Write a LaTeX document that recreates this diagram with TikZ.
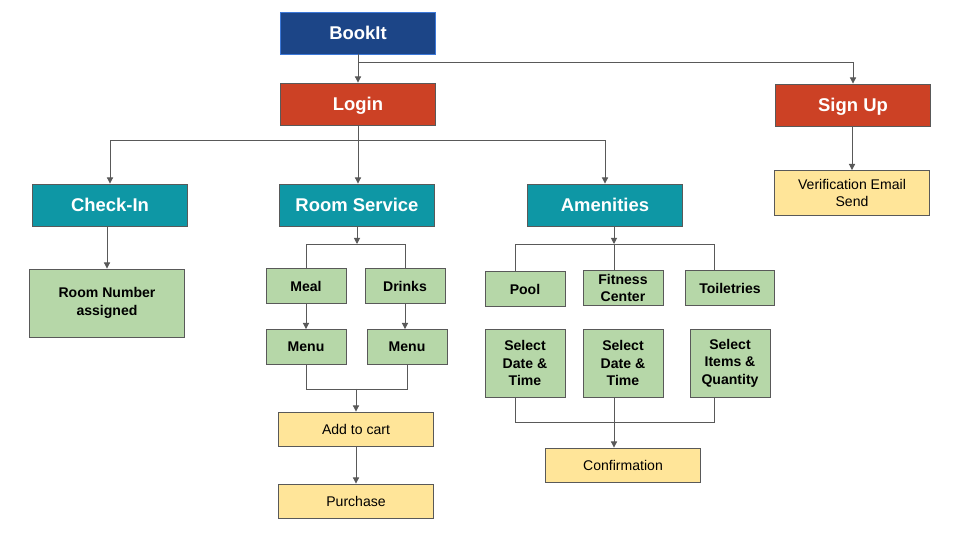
\documentclass[tikz,border=0pt]{standalone}
\usepackage{fontspec}
\setmainfont{Liberation Sans}
\usetikzlibrary{arrows.meta}
\definecolor{bookblue}{HTML}{1C4587}
\definecolor{bookedge}{HTML}{3C78D8}
\definecolor{loginred}{HTML}{CC4125}
\definecolor{sectteal}{HTML}{0E97A5}
\definecolor{leafgreen}{HTML}{B6D7A8}
\definecolor{endyellow}{HTML}{FFE599}
\definecolor{edgegray}{HTML}{595959}

\begin{document}
\begin{tikzpicture}[x=0.02cm,y=-0.02cm,
		box/.style={draw=edgegray,line width=0.5pt,inner sep=0pt,align=center},
		head/.style={box,fill=#1,text=white,font=\fontsize{10.5}{12}\selectfont\bfseries,text height=7.5pt,text depth=0pt,minimum width=3.1cm,minimum height=0.84cm},
		leaf/.style={box,fill=leafgreen,font=\fontsize{8}{10}\selectfont\bfseries,minimum width=1.6cm,minimum height=0.7cm},
		last/.style={box,fill=endyellow,font=\fontsize{8}{10}\selectfont,minimum width=3.1cm,minimum height=0.68cm},
		conn/.style={draw=edgegray,line width=0.55pt},
		arr/.style={conn,-{Triangle[length=3.5pt,width=3.5pt]}}]
			\useasboundingbox[fill=white] (0,0) rectangle (960,540);
			% top
			\node[head=bookblue,draw=bookedge] (bookit) at (358,33) {BookIt};
			\node[head=loginred] (login) at (358,104) {Login};
			\node[head=loginred] (signup) at (853,105) {Sign Up};
			\node[last,minimum height=0.9cm] (verify) at (852,193) {Verification Email\\Send};
			% sections
			\node[head=sectteal] (checkin) at (110,205) {Check-In};
			\node[head=sectteal] (roomsvc) at (357,205) {Room Service};
			\node[head=sectteal] (amen) at (605,205) {Amenities};
			\node[leaf,minimum width=3.1cm,minimum height=1.36cm] (roomno) at (107,303) {Room Number\\assigned};
			% room service
			\node[leaf] (meal) at (306,286) {Meal};
			\node[leaf] (drinks) at (405,286) {Drinks};
			\node[leaf] (menua) at (306,347) {Menu};
			\node[leaf] (menub) at (407,347) {Menu};
			\node[last] (cart) at (356,429) {Add to cart};
			\node[last] (purchase) at (356,501) {Purchase};
			% amenities
			\node[leaf] (pool) at (525,289) {Pool};
			\node[leaf] (fitness) at (623,288) {Fitness\\Center};
			\node[leaf,minimum width=1.78cm] (toil) at (730,288) {Toiletries};
			\node[leaf,minimum height=1.36cm] (datea) at (525,363) {Select\\Date \&\\Time};
			\node[leaf,minimum height=1.36cm] (dateb) at (623,363) {Select\\Date \&\\Time};
			\node[leaf,minimum height=1.36cm] (items) at (730,363) {Select\\Items \&\\Quantity};
			\node[last] (confirm) at (623,465) {Confirmation};
			% connectors
			\coordinate (jbook) at (358,62);
			\coordinate (jlog) at (358,140);
			\draw[arr] (bookit.south) -- (login.north);
			\draw[arr] (jbook) -| (signup.north);
			\draw[arr] (signup.south -| verify.north) -- (verify.north);
			\draw[arr] (login.south) -- (login.south |- roomsvc.north);
			\draw[arr] (jlog) -| (checkin.north);
			\draw[arr] (jlog) -| (amen.north);
			\draw[arr] (checkin.south -| roomno.north) -- (roomno.north);
			\coordinate (jrs) at (357,244);
			\draw[arr] (roomsvc.south) -- (jrs);
			\draw[conn] (meal.north) |- (jrs -| drinks.north) -- (drinks.north);
			\draw[arr] (meal.south) -- (menua.north);
			\draw[arr] (drinks.south) -- (drinks.south |- menub.north);
			\coordinate (jmenu) at (356,389);
			\draw[conn] (menua.south) |- (jmenu -| menub.south) -- (menub.south);
			\draw[arr] (jmenu) -- (jmenu |- cart.north);
			\draw[arr] (cart.south) -- (purchase.north);
			\coordinate (jam) at (614,244);
			\coordinate (apool) at (515,244);
			\coordinate (atoil) at (714,244);
			\draw[arr] (amen.south -| jam) -- (jam);
			\draw[conn] (apool |- pool.north) -- (apool) -- (atoil) -- (atoil |- toil.north);
			\draw[conn] (jam) -- (jam |- fitness.north);
			\coordinate (jconf) at (614,422);
			\coordinate (bpool) at (515,422);
			\coordinate (bitem) at (714,422);
			\draw[conn] (bpool |- datea.south) -- (bpool) -- (bitem) -- (bitem |- items.south);
			\draw[conn] (jconf |- dateb.south) -- (jconf);
			\draw[arr] (jconf) -- (jconf |- confirm.north);
		\end{tikzpicture}
\end{document}
